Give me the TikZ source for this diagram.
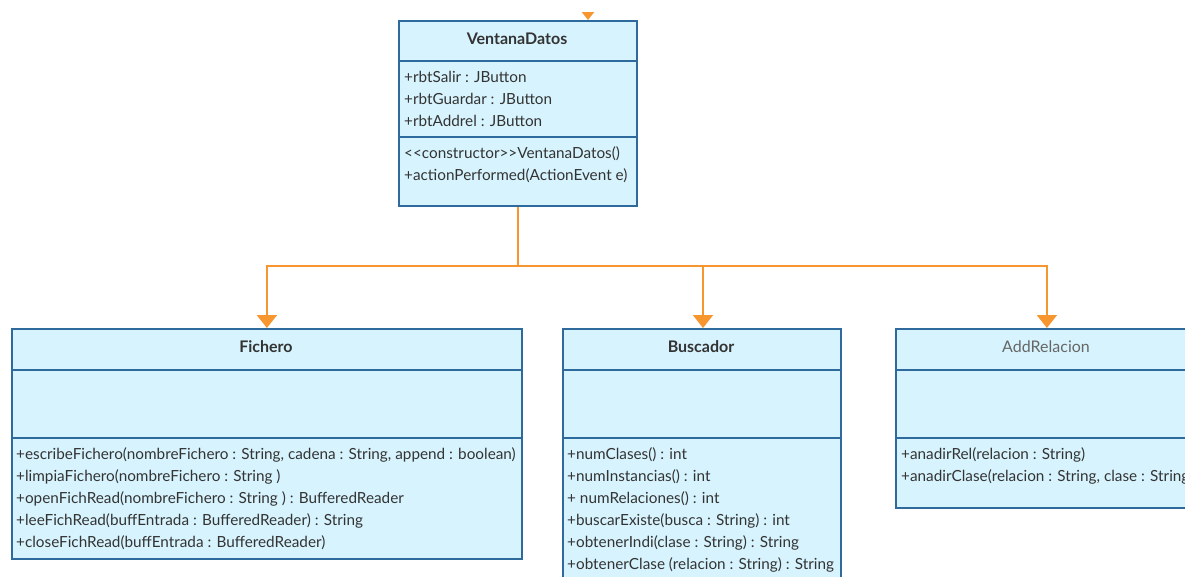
\documentclass[tikz,border=0pt]{standalone}
\usepackage{fontspec}
\setmainfont{Lato}
\usetikzlibrary{arrows.meta}
\definecolor{boxfill}{HTML}{D7F4FE}
\definecolor{boxline}{HTML}{2F6A9C}
\definecolor{conncol}{HTML}{F7962F}
\definecolor{txt}{HTML}{333333}
\definecolor{txtlight}{HTML}{666666}
\begin{document}
\begin{tikzpicture}[x=1pt,y=-1pt,
  classbox/.style={draw=boxline, line width=1.8pt, fill=boxfill, inner sep=0pt, anchor=north west},
  divider/.style={draw=boxline, line width=1.8pt},
  member/.style={anchor=west, inner sep=0pt, text=txt, font=\fontsize{15.3}{17}\selectfont},
  classtitle/.style={inner sep=0pt, text=txt, font=\fontsize{16}{18}\selectfont\bfseries},
  conn/.style={draw=conncol, line width=2pt},
  arr/.style={-{Triangle[width=20pt,length=13pt]}}
]
\useasboundingbox (0,0) rectangle (1185,577);
\clip (0,0) rectangle (1185,577);

% VentanaDatos
\node[classbox, minimum width=238pt, minimum height=185pt] (vd) at (398,20) {};
\draw[divider] (398,61) -- (636,61);
\draw[divider] (398,137) -- (636,137);
\node[classtitle] (vdt) at (517,39) {VentanaDatos};
\node[member] (vd1) at (404,77) {+rbtSalir : JButton};
\node[member] (vd2) at (404,99) {+rbtGuardar : JButton};
\node[member] (vd3) at (404,121) {+rbtAddrel : JButton};
\node[member] (vd4) at (404,154) {{<}{<}constructor{>}{>}VentanaDatos()};
\node[member] (vd5) at (404,176) {+actionPerformed(ActionEvent e)};

% Fichero
\node[classbox, minimum width=510pt, minimum height=230pt] (fi) at (11,328) {};
\draw[divider] (11,370) -- (521,370);
\draw[divider] (11,438) -- (521,438);
\node[classtitle] (fit) at (266,347) {Fichero};
\node[member] (fi1) at (16,455) {+escribeFichero(nombreFichero : String, cadena : String, append : boolean)};
\node[member] (fi2) at (16,477) {+limpiaFichero(nombreFichero : String )};
\node[member] (fi3) at (16,499) {+openFichRead(nombreFichero : String ) : BufferedReader};
\node[member] (fi4) at (16,521) {+leeFichRead(buffEntrada : BufferedReader) : String};
\node[member] (fi5) at (16,543) {+closeFichRead(buffEntrada : BufferedReader)};

% Buscador
\node[classbox, minimum width=278pt, minimum height=262pt] (bu) at (562,328) {};
\draw[divider] (562,370) -- (840,370);
\draw[divider] (562,438) -- (840,438);
\node[classtitle] (but) at (701,347) {Buscador};
\node[member] (bu1) at (567,455) {+numClases() : int};
\node[member] (bu2) at (567,477) {+numInstancias() : int};
\node[member] (bu3) at (567,499) {+ numRelaciones() : int};
\node[member] (bu4) at (567,521) {+buscarExiste(busca : String) : int};
\node[member] (bu5) at (567,543) {+obtenerIndi(clase : String) : String};
\node[member] (bu6) at (567,565) {+obtenerClase (relacion : String) : String};

% AddRelacion
\node[classbox, minimum width=302pt, minimum height=179pt] (ar) at (895,328) {};
\draw[divider] (895,370) -- (1197,370);
\draw[divider] (895,438) -- (1197,438);
\node[classtitle, text=txtlight, font=\fontsize{16}{18}\selectfont] (art) at (1046,347) {AddRelacion};
\node[member] (ar1) at (901,455) {+anadirRel(relacion : String)};
\node[member] (ar2) at (901,477) {+anadirClase(relacion : String, clase : String)};

% connectors
\begin{scope}
\clip (0,13) rectangle (1185,40);
\coordinate (topin) at (588,-10);
\draw[conn, arr] (topin) -- (topin |- vd.north);
\end{scope}
\draw[conn] (vd.south) -- (vd.south |- 0,266) coordinate (junc);
\draw[conn, arr] (junc) -| (fi.north);
\draw[conn, arr] (junc) -| (bu.north -| 703,0);
\draw[conn, arr] (junc) -| (ar.north);
\end{tikzpicture}
\end{document}
